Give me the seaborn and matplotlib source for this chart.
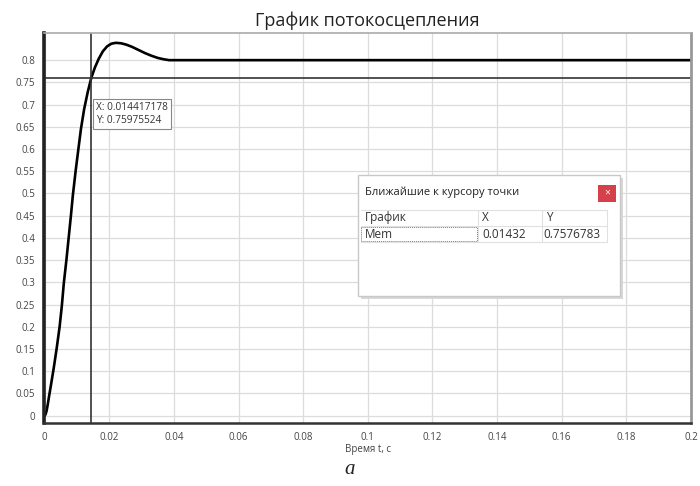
import numpy as np
import pandas as pd
import seaborn as sns
import matplotlib.pyplot as plt
from matplotlib.patches import Rectangle
from matplotlib.ticker import MultipleLocator, FixedLocator, FuncFormatter

# flux linkage curve
t_vals = [0.0, 0.0003, 0.0006, 0.0009, 0.0013, 0.0019, 0.0028, 0.0037, 0.0046, 0.0053,
          0.0059, 0.0067, 0.0074, 0.0081, 0.0087, 0.0096, 0.0105, 0.0112, 0.0122, 0.0133,
          0.0144, 0.0155, 0.0167, 0.0180, 0.0193, 0.0206, 0.0220, 0.0236, 0.0252, 0.0270,
          0.0290, 0.0310, 0.0330, 0.0350, 0.0368, 0.0385, 0.2]
psi_vals = [0.0, 0.004, 0.012, 0.024, 0.042, 0.068, 0.108, 0.152, 0.200, 0.248,
            0.298, 0.350, 0.400, 0.450, 0.496, 0.553, 0.605, 0.645, 0.690, 0.728,
            0.760, 0.783, 0.803, 0.820, 0.831, 0.837, 0.839, 0.838, 0.835, 0.830,
            0.823, 0.816, 0.810, 0.805, 0.802, 0.800, 0.800]

cursor_x = 0.014417178
cursor_y = 0.75975524
cursor_label = "X: 0.014417178\nY: 0.75975524"

table_header = ["График", "X", "Y"]
table_row = ["Mem", "0.01432", "0.7576783"]

sns.set_style("white")
plt.rcParams['font.family'] = ['Open Sans', 'DejaVu Sans']

df = pd.DataFrame({"t": t_vals, "psi": psi_vals})

fig = plt.figure(figsize=(7, 4.86), dpi=100)
ax = fig.add_axes([0.063, 0.130, 0.924, 0.802])

sns.lineplot(data=df, x="t", y="psi", ax=ax, color="black", linewidth=1.9)

ax.set_xlim(-0.0002, 0.2)
ax.set_ylim(-0.016, 0.861)
ax.xaxis.set_major_locator(MultipleLocator(0.02))
ax.xaxis.set_minor_locator(MultipleLocator(0.005))
ax.yaxis.set_major_locator(FixedLocator([i * 0.05 for i in range(17)]))
fmt = FuncFormatter(lambda v, p: ("%.2f" % v).rstrip("0").rstrip(".") if abs(v) > 1e-9 else "0")
ax.xaxis.set_major_formatter(fmt)
ax.yaxis.set_major_formatter(fmt)
ax.grid(True, which="major", color="#dcdcdc", linewidth=0.9)
ax.tick_params(axis="both", which="major", labelsize=7, colors="#555555", length=3, width=0.8)
ax.tick_params(axis="x", which="minor", length=2, width=0.8, colors="#555555")
ax.tick_params(axis="both", labelcolor="#444444")

ax.spines["top"].set_color("#aaaaaa")
ax.spines["top"].set_linewidth(1.2)
ax.spines["right"].set_color("#999999")
ax.spines["right"].set_linewidth(2)
ax.spines["left"].set_color("#222222")
ax.spines["left"].set_linewidth(2.6)
ax.spines["bottom"].set_color("#333333")
ax.spines["bottom"].set_linewidth(1.8)

ax.set_xlabel("Время t, c", fontsize=7, color="#444444", labelpad=1)
ax.set_ylabel("")
ax.set_title("График потокосцепления", fontsize=13, color="#222222", pad=5)

# cursor crosshair
ax.axvline(cursor_x, color="#333333", linewidth=1.2)
ax.axhline(cursor_y, color="#333333", linewidth=1.2)
ax.annotate(cursor_label, xy=(cursor_x, cursor_y), xytext=(3.5, -17.5), textcoords="offset points",
            fontsize=7.3, color="#333333", ha="left", va="top", linespacing=1.25,
            bbox=dict(boxstyle="square,pad=0.3", facecolor="white", edgecolor="#888888", linewidth=0.8))

# popup dialog
dlg = fig.add_axes([0.511, 0.390, 0.375, 0.250])
dlg.set_xlim(0, 262)
dlg.set_ylim(123, 0)
dlg.axis("off")
dlg.add_patch(Rectangle((3, 3), 262, 123, facecolor="#d8d8d8", edgecolor="none", clip_on=False))
dlg.add_patch(Rectangle((0, 0), 262, 123, facecolor="white", edgecolor="#c8c8c8", linewidth=1, clip_on=False))
dlg.text(7, 17, "Ближайшие к курсору точки", fontsize=8, color="#222222", va="center")
dlg.add_patch(Rectangle((240, 10), 18, 17, facecolor="#d6404a", edgecolor="none"))
dlg.text(249, 18.5, "×", fontsize=7.5, color="white", ha="center", va="center")

col_x = [3, 120, 184, 249]
dlg.plot([3, 249], [35, 35], color="#e0e0e0", linewidth=0.8)
dlg.plot([3, 249], [52, 52], color="#e0e0e0", linewidth=0.8)
dlg.plot([3, 249], [68, 68], color="#e0e0e0", linewidth=0.8)
for cx in col_x[1:]:
    dlg.plot([cx, cx], [35, 68], color="#e0e0e0", linewidth=0.8)
for i, h in enumerate(table_header):
    dlg.text(col_x[i] + 4, 43.5, h, fontsize=8.5, color="#333333", va="center")
dlg.add_patch(Rectangle((3, 53), 116, 14, facecolor="none", edgecolor="#777777",
                        linewidth=0.7, linestyle=(0, (1, 1))))
for i, v in enumerate(table_row):
    dlg.text(col_x[i] + (4 if i != 2 else 1), 60, v, fontsize=8.5, color="#333333", va="center")

fig.text(0.5, 0.033, "a", fontsize=15, style="italic", family="Liberation Serif",
         ha="center", va="center", color="#222222")

fig.savefig("out.png", dpi=100, facecolor="white")
